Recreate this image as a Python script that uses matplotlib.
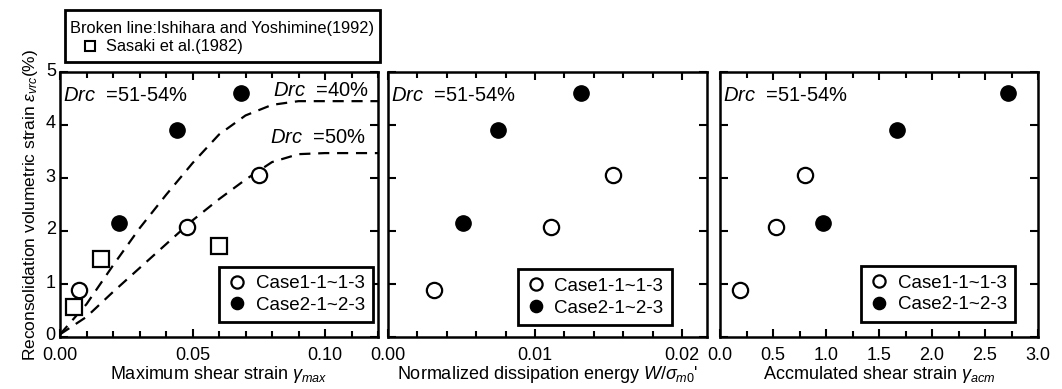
import numpy as np
import matplotlib.pyplot as plt
import matplotlib.transforms as mtransforms
from matplotlib.patches import Rectangle
from matplotlib.lines import Line2D
from matplotlib.ticker import MultipleLocator

plt.rcParams['font.family'] = ['Liberation Sans', 'DejaVu Sans']
plt.rcParams['mathtext.fontset'] = 'custom'
plt.rcParams['mathtext.rm'] = 'Liberation Sans'
plt.rcParams['mathtext.it'] = 'Liberation Sans:italic'
plt.rcParams['mathtext.bf'] = 'Liberation Sans:bold'

# volumetric strain (%) of the two test series
ev_case1 = [0.88, 2.08, 3.05]
ev_case2 = [2.15, 3.90, 4.60]

# x values for each panel
gmax_case1 = [0.0070, 0.0478, 0.0752]
gmax_case2 = [0.0222, 0.0442, 0.0682]
w_case1 = [0.0031, 0.0111, 0.0153]
w_case2 = [0.0051, 0.0075, 0.0131]
gacm_case1 = [0.19, 0.53, 0.80]
gacm_case2 = [0.97, 1.67, 2.72]

# Sasaki et al. (1982)
sasaki_x = [0.0052, 0.0154, 0.0600]
sasaki_y = [0.57, 1.47, 1.72]

# Ishihara and Yoshimine (1992) broken lines
iy_x = [0.0, 0.01, 0.02, 0.03, 0.04, 0.05, 0.06, 0.07, 0.08, 0.09, 0.10, 0.12]
iy_40 = [0.05, 0.62, 1.35, 2.05, 2.68, 3.28, 3.82, 4.18, 4.38, 4.45, 4.45, 4.45]
iy_50 = [0.05, 0.38, 0.85, 1.30, 1.75, 2.20, 2.60, 2.97, 3.30, 3.45, 3.47, 3.47]

W, H = 1062, 389
fig = plt.figure(figsize=(W / 100, H / 100), dpi=100)


def add_ax(x0, x1, y0=72, y1=337):
    return fig.add_axes([x0 / W, 1 - y1 / H, (x1 - x0) / W, (y1 - y0) / H])


def style(ax, xlim, major, minor):
    ax.set_xlim(*xlim)
    ax.set_ylim(0, 5)
    ax.xaxis.set_major_locator(MultipleLocator(major))
    ax.xaxis.set_minor_locator(MultipleLocator(minor))
    ax.yaxis.set_major_locator(MultipleLocator(1))
    ax.tick_params(which='both', direction='in', top=True, right=True,
                   width=1.5, labelsize=13)
    ax.tick_params(axis='x', pad=7)
    ax.tick_params(axis='y', pad=3)
    ax.tick_params(which='major', length=6)
    ax.tick_params(which='minor', length=4)
    for s in ax.spines.values():
        s.set_linewidth(1.8)


def points(ax, x1, x2, anchor):
    ax.plot(x1, ev_case1, 'o', mfc='white', mec='black', mew=1.6, ms=11,
            label='Case1-1~1-3', zorder=5)
    ax.plot(x2, ev_case2, 'o', mfc='black', mec='black', ms=11,
            label='Case2-1~2-3', zorder=5)
    leg = ax.legend(loc='lower right', bbox_to_anchor=anchor, fontsize=13.5,
                    fancybox=False, edgecolor='black', framealpha=1,
                    markerscale=0.8, handlelength=1.0, handletextpad=0.5,
                    borderpad=0.45, labelspacing=0.25, borderaxespad=0)
    leg.get_frame().set_linewidth(2)
    ax.text(0.01, 0.91, r'$\mathit{Drc}$  =51-54%', transform=ax.transAxes,
            fontsize=14.5, va='center', ha='left')


# panel 1
ax1 = add_ax(60, 378)
style(ax1, (0, 0.12), 0.05, 0.01)
ax1.xaxis.set_major_formatter(lambda v, p: f'{v:.2f}')
ax1.plot(iy_x, iy_40, color='black', lw=1.6, ls=(0, (5, 3.5)))
ax1.plot(iy_x, iy_50, color='black', lw=1.6, ls=(0, (5, 3.5)))
ax1.plot(sasaki_x, sasaki_y, 's', mfc='white', mec='black', mew=1.6, ms=11,
         zorder=4)
points(ax1, gmax_case1, gmax_case2, (0.985, 0.055))
ax1.text(0.1165, 4.66, r'$\mathit{Drc}$  =40%', fontsize=14.5, ha='right',
         va='center')
ax1.text(0.1155, 3.77, r'$\mathit{Drc}$  =50%', fontsize=14.5, ha='right',
         va='center')
ax1.set_xlabel(r'Maximum shear strain $\gamma_{max}$', fontsize=13,
               labelpad=0)
ax1.set_ylabel(r'Reconsolidation volumetric strain $\epsilon_{vrc}$(%)',
               fontsize=12.5, labelpad=4)
# y tick labels sit slightly above their ticks in the original
shift = mtransforms.ScaledTranslation(0, 3 / 100, fig.dpi_scale_trans)
for lab in ax1.get_yticklabels():
    lab.set_transform(lab.get_transform() + shift)

# panel 2
ax2 = add_ax(388, 707)
style(ax2, (0, 0.0217), 0.01, 0.002)
ax2.set_xticks([0.0, 0.01, 0.02], ['0.00', '0.01', '0.02'])
ax2.tick_params(axis='y', labelleft=False)
points(ax2, w_case1, w_case2, (0.89, 0.045))
ax2.set_xlabel(r"Normalized dissipation energy $W/\sigma_{m0}$'", fontsize=13,
               labelpad=0)

# panel 3
ax3 = add_ax(720, 1038)
style(ax3, (0, 3.0), 0.5, 0.25)
ax3.xaxis.set_major_formatter(lambda v, p: f'{v:.1f}')
ax3.tick_params(axis='y', labelleft=False)
points(ax3, gacm_case1, gacm_case2, (0.928, 0.057))
ax3.set_xlabel(r'Accmulated shear strain $\gamma_{acm}$', fontsize=13,
               labelpad=0)

# reference box above panel 1
box = Rectangle((65 / W, 1 - 62 / H), (380 - 65) / W, 52 / H,
                transform=fig.transFigure, fill=False, lw=2, ec='black')
fig.add_artist(box)
fig.text(70 / W, 1 - 29 / H, 'Broken line:Ishihara and Yoshimine(1992)',
         fontsize=11.8, va='center', ha='left')
fig.add_artist(Line2D([90 / W], [1 - 46 / H], transform=fig.transFigure,
                      marker='s', mfc='white', mec='black', mew=1.5, ms=7))
fig.text(106 / W, 1 - 46 / H, 'Sasaki et al.(1982)', fontsize=11.8,
         va='center', ha='left')

fig.savefig('out.png', dpi=100)
